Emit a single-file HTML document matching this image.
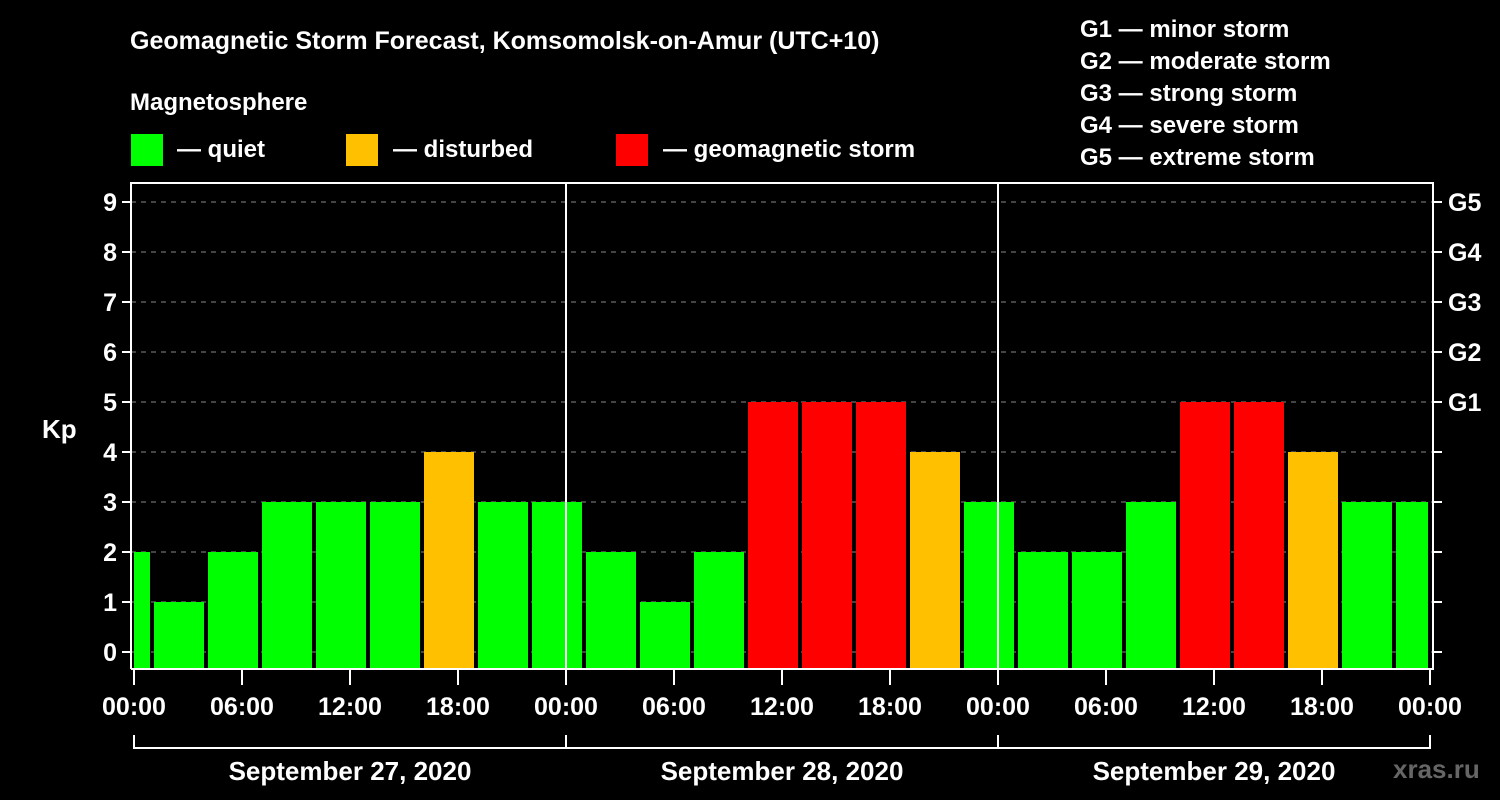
<!DOCTYPE html>
<html><head><meta charset="utf-8"><style>
html,body{margin:0;padding:0;background:#000;}
svg{display:block;font-family:"Liberation Sans",Arial,sans-serif;font-weight:bold;}
</style></head><body>
<svg id="chart" width="1500" height="800" viewBox="0 0 1500 800">
<rect width="1500" height="800" fill="#000"/>
<text x="130" y="49" fill="#fff" font-size="25">Geomagnetic Storm Forecast, Komsomolsk-on-Amur (UTC+10)</text>
<text x="130" y="110" fill="#fff" font-size="24">Magnetosphere</text>
<g><rect x="131" y="134" width="32" height="32" fill="#00ff00"/><text x="177" y="157" fill="#fff" font-size="24">— quiet</text></g>
<g><rect x="346" y="134" width="32" height="32" fill="#ffc000"/><text x="393" y="157" fill="#fff" font-size="24">— disturbed</text></g>
<g><rect x="616" y="134" width="32" height="32" fill="#ff0000"/><text x="663" y="157" fill="#fff" font-size="24">— geomagnetic storm</text></g>
<g font-size="24" fill="#fff">
<text x="1080" y="37">G1 — minor storm</text>
<text x="1080" y="69">G2 — moderate storm</text>
<text x="1080" y="101">G3 — strong storm</text>
<text x="1080" y="133">G4 — severe storm</text>
<text x="1080" y="165">G5 — extreme storm</text>
</g>
<text x="42" y="438" fill="#fff" font-size="26">Kp</text>
<g id="plot"></g>
<text x="1393" y="778" fill="#666" font-size="26">xras.ru</text>
</svg>
<script>
const kpValues = [2,1,2,3,3,3,4,3,3,2,1,2,5,5,5,4,3,2,2,3,5,5,4,3,3];
const yTicks = [0,1,2,3,4,5,6,7,8,9];
const gLabels = ["G1","G2","G3","G4","G5"];
const timeLabels = ["00:00","06:00","12:00","18:00","00:00","06:00","12:00","18:00","00:00","06:00","12:00","18:00","00:00","06:00","12:00","18:00","00:00"];
const dateLabels = ["September 27, 2020","September 28, 2020","September 29, 2020"];

const NS="http://www.w3.org/2000/svg";
const g=document.getElementById('plot');
const X0=134, X1=1430, PX_H=18, LEFT=131, RIGHT=1433, TOP=183, BOT=669;
const x=h=>X0+h*PX_H;
const y=v=>652-v*50;
function mk(t,a,p){const e=document.createElementNS(NS,t);for(const k in a)e.setAttribute(k,a[k]);(p||g).appendChild(e);return e;}

// gridlines
yTicks.forEach(v=>{
  const l=mk('line',{x1:LEFT,x2:RIGHT,y1:y(v),y2:y(v),stroke:'#888','stroke-dasharray':'5,5','stroke-width':1});
  
  
});
// bars: interval k starts at hour -2+3k
kpValues.forEach((v,k)=>{
  let s=x(-2+3*k)+2, e=x(1+3*k)-2;
  s=Math.max(s,X0); e=Math.min(e,X1-2);
  const col=v>=5?'#ff0000':(v>=4?'#ffc000':'#00ff00');
  const r=mk('rect',{x:s,y:y(v),width:e-s,height:BOT-y(v),fill:col});
  
  
});
// frame
const f=mk('path',{d:`M${LEFT} ${BOT}V${TOP}H${RIGHT}V${BOT}H${LEFT}`,fill:'none',stroke:'#fff','stroke-width':2});


[1,2].forEach(d=>{
  const l=mk('line',{x1:x(24*d),x2:x(24*d),y1:TOP,y2:BOT,stroke:'#fff','stroke-width':2});
  
  
});
// y ticks & labels
yTicks.forEach(v=>{
  mk('line',{x1:LEFT-9,x2:LEFT,y1:y(v),y2:y(v),stroke:'#fff','stroke-width':2});
  mk('line',{x1:RIGHT,x2:RIGHT+9,y1:y(v),y2:y(v),stroke:'#fff','stroke-width':2});
  const t=mk('text',{x:117,y:y(v)+9,fill:'#fff','font-size':25,'text-anchor':'end'});
  t.textContent=v;
  
  
});
gLabels.forEach((s,i)=>{
  const t=mk('text',{x:1448,y:y(5+i)+9,fill:'#fff','font-size':25});
  t.textContent=s;
  
  
});
// x ticks
timeLabels.forEach((s,i)=>{
  const xx=x(i*6);
  mk('line',{x1:xx,x2:xx,y1:BOT,y2:BOT+16,stroke:'#fff','stroke-width':2});
  const t=mk('text',{x:xx,y:715,fill:'#fff','font-size':25,'text-anchor':'middle'});
  t.textContent=s;
  
  
});
// date bracket
mk('line',{x1:X0,x2:X1,y1:748,y2:748,stroke:'#fff','stroke-width':2});
[0,1,2,3].forEach(d=>mk('line',{x1:x(24*d),x2:x(24*d),y1:735,y2:749,stroke:'#fff','stroke-width':2}));
dateLabels.forEach((s,i)=>{
  const t=mk('text',{x:x(24*i+12),y:780,fill:'#fff','font-size':26,'text-anchor':'middle'});
  t.textContent=s;
  
  
});
</script>
</body></html>
